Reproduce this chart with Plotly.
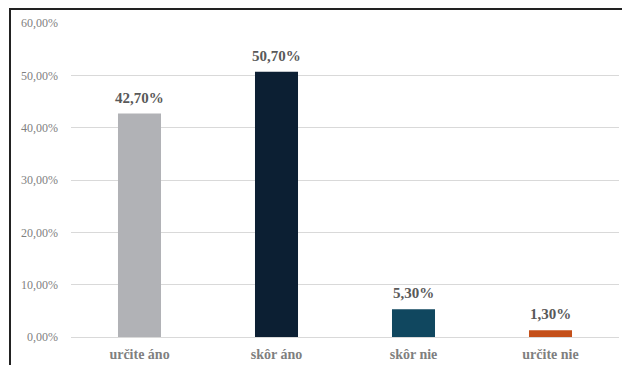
import plotly.graph_objects as go

categories = ["určite áno", "skôr áno", "skôr nie", "určite nie"]
values = [42.7, 50.7, 5.3, 1.3]
colors = ["#B1B2B6", "#0C1F33", "#10475F", "#C4501A"]
tick_vals = [0, 10, 20, 30, 40, 50, 60]
tick_text = ["0,00%", "10,00%", "20,00%", "30,00%", "40,00%", "50,00%", "60,00%"]
labels = [f"{v:.2f}".replace(".", ",") + "%" for v in values]

fig = go.Figure(go.Bar(
    x=categories, y=values, marker_color=colors, marker_line_width=0,
))

for c, v, t in zip(categories, values, labels):
    fig.add_annotation(x=c, y=v, text=t, showarrow=False, yanchor="bottom",
                       yshift=6,
                       font=dict(family="Liberation Serif", size=15, color="#595959", weight="bold"))

W, H = 622, 365
L, R, T, B = 71, 3, 23, 28
pw, ph = W - L - R, H - T - B

def px_x(p):
    return (p - L) / pw

def px_y(p):
    return (H - B - p) / ph

fig.update_layout(
    width=W, height=H, margin=dict(l=L, r=R, t=T, b=B),
    paper_bgcolor="white", plot_bgcolor="white",
    bargap=0.686, showlegend=False,
    font=dict(family="Liberation Serif"),
    xaxis=dict(showgrid=False, showline=False, ticks="", ticklabelstandoff=7,
               tickfont=dict(family="Liberation Serif", size=14, color="#7F7F7F", weight="bold")),
    yaxis=dict(range=[0, 60], tickvals=tick_vals, ticktext=tick_text,
               showgrid=True, gridcolor="#D9D9D9", gridwidth=1,
               zeroline=True, zerolinecolor="#D9D9D9", zerolinewidth=1,
               showline=False, ticks="", ticklabelstandoff=12,
               tickfont=dict(family="Liberation Serif", size=12, color="#7F7F7F")),
    shapes=[
        dict(type="line", xref="paper", yref="paper", x0=px_x(10), x1=px_x(10),
             y0=px_y(8), y1=px_y(H + 5), line=dict(color="#222222", width=2)),
        dict(type="line", xref="paper", yref="paper", x0=px_x(9), x1=px_x(W + 5),
             y0=px_y(9), y1=px_y(9), line=dict(color="#222222", width=2)),
    ],
)

fig.write_html("out.html")
